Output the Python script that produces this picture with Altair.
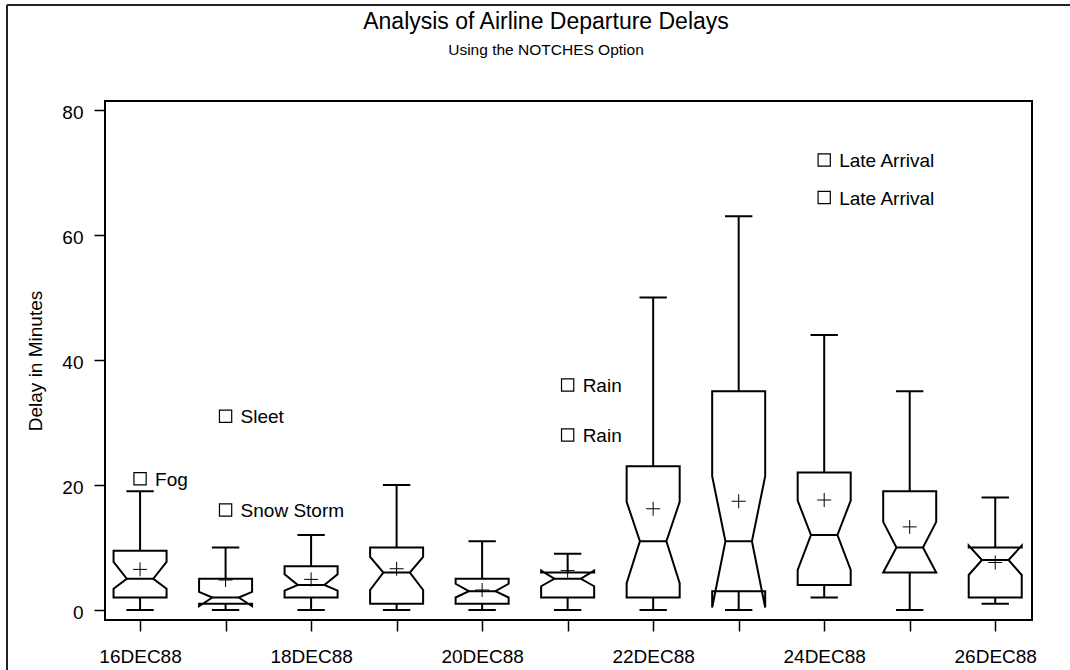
import json

import altair as alt
import pandas as pd

# ---- daily delay summaries (minutes) ----
days = ["16DEC88", "17DEC88", "18DEC88", "19DEC88", "20DEC88", "21DEC88",
        "22DEC88", "23DEC88", "24DEC88", "25DEC88", "26DEC88"]
whisker_low = [0, 0, 0, 0, 0, 0, 0, 0, 2, 0, 1]
q1 = [2, 1, 2, 1, 1, 2, 2, 3, 4, 6, 2]
median = [5, 2, 4, 6, 3, 5, 11, 11, 12, 10, 8]
q3 = [9.5, 5, 7, 10, 5, 6, 23, 35, 22, 19, 10]
whisker_high = [19, 10, 12, 20, 11, 9, 50, 63, 44, 35, 18]
mean = [6.5, 4.8, 4.9, 6.6, 3.2, 6.3, 16.2, 17.4, 17.6, 13.3, 7.6]
notch_low = [3.4, 0.6, 3.1, 3.2, 2.0, 3.8, 4.3, 0.4, 6.4, 6.0, 5.6]
notch_high = [7.7, 2.9, 5.7, 8.5, 4.2, 6.3, 17.3, 21.4, 17.5, 14.1, 10.3]

# ---- labelled outliers ----
outlier_day = ["16DEC88", "17DEC88", "17DEC88", "21DEC88", "21DEC88", "24DEC88", "24DEC88"]
outlier_delay = [21, 31, 16, 36, 28, 72, 66]
outlier_reason = ["Fog", "Sleet", "Snow Storm", "Rain", "Rain", "Late Arrival", "Late Arrival"]

# ---- titles ----
title_lines = ["Analysis of Airline Departure Delays", "Using the NOTCHES Option"]

# box geometry, in day units
BOX_HALF = 0.31
NOTCH_HALF = 0.155
CAP_HALF = 0.16

FONT = "Liberation Sans"
INK = "#000000"

pos = list(range(len(days)))

stats = pd.DataFrame({
    "pos": pos, "day": days, "lo": whisker_low, "q1": q1, "med": median,
    "q3": q3, "hi": whisker_high, "mean": mean,
})
stats["cap_l"] = stats["pos"] - CAP_HALF
stats["cap_r"] = stats["pos"] + CAP_HALF
stats["notch_l"] = stats["pos"] - NOTCH_HALF
stats["notch_r"] = stats["pos"] + NOTCH_HALF

# notched box outlines, traced as closed paths
rows = []
for i in pos:
    pts = [
        (-BOX_HALF, q3[i]), (BOX_HALF, q3[i]), (BOX_HALF, notch_high[i]),
        (NOTCH_HALF, median[i]), (BOX_HALF, notch_low[i]), (BOX_HALF, q1[i]),
        (-BOX_HALF, q1[i]), (-BOX_HALF, notch_low[i]), (-NOTCH_HALF, median[i]),
        (-BOX_HALF, notch_high[i]), (-BOX_HALF, q3[i]),
    ]
    for k, (dx, yv) in enumerate(pts):
        rows.append({"box": days[i], "vertex": k, "px": i + dx, "py": yv})
outline = pd.DataFrame(rows)

outliers = pd.DataFrame({
    "pos": [days.index(d) for d in outlier_day],
    "delay": outlier_delay,
    "reason": outlier_reason,
})

label_array = json.dumps(days).replace('"', "'")
x_scale = alt.Scale(domain=[-0.41, 10.43], nice=False, zero=False)
y_scale = alt.Scale(domain=[-1.6, 81.44], nice=False, zero=False)

x_axis = alt.Axis(
    values=pos,
    labelExpr=f"datum.value % 2 == 0 ? {label_array}[datum.value] : ''",
    title=None, grid=False, domain=False, tickSize=11, tickWidth=1.5,
    tickColor=INK, labelColor=INK, labelFontSize=19, labelFont=FONT,
    labelPadding=16, labelOverlap=False, labelFlush=False,
)
y_axis = alt.Axis(
    values=[0, 20, 40, 60, 80], title="Delay in Minutes", grid=False,
    domain=False, tickSize=11, tickWidth=1.5, tickColor=INK, labelColor=INK,
    labelFontSize=19, labelFont=FONT, labelPadding=11, labelOffset=2,
    titleFont=FONT, titleFontSize=19, titleFontWeight="normal",
    titleColor=INK, titlePadding=16,
)


def X(field):
    return alt.X(f"{field}:Q", scale=x_scale, axis=x_axis)


def Y(field):
    return alt.Y(f"{field}:Q", scale=y_scale, axis=y_axis)


boxes = alt.Chart(outline).mark_line(
    color=INK, strokeWidth=2, strokeJoin="miter", strokeCap="square"
).encode(x=X("px"), y=Y("py"), order="vertex:Q", detail="box:N")

base = alt.Chart(stats)

median_lines = base.mark_rule(color=INK, strokeWidth=2).encode(
    x=X("notch_l"), x2="notch_r:Q", y=Y("med"))

upper_whisker = base.mark_rule(color=INK, strokeWidth=2).encode(
    x=X("pos"), y=Y("q3"), y2="hi:Q")
lower_whisker = base.mark_rule(color=INK, strokeWidth=2).encode(
    x=X("pos"), y=Y("lo"), y2="q1:Q")
upper_cap = base.mark_rule(color=INK, strokeWidth=2).encode(
    x=X("cap_l"), x2="cap_r:Q", y=Y("hi"))
lower_cap = base.mark_rule(color=INK, strokeWidth=2).encode(
    x=X("cap_l"), x2="cap_r:Q", y=Y("lo"))

means = base.mark_point(
    shape="M-1,0H1M0,-1V1", size=196, filled=False, color=INK,
    strokeWidth=1, opacity=1,
).encode(x=X("pos"), y=Y("mean"))

outlier_points = alt.Chart(outliers).mark_point(
    shape="square", size=150, filled=False, color=INK, strokeWidth=1.2,
    opacity=1,
).encode(x=X("pos"), y=Y("delay"))

outlier_text = alt.Chart(outliers).mark_text(
    align="left", baseline="middle", dx=15, dy=1, font=FONT, fontSize=19,
    color=INK,
).encode(x=X("pos"), y=Y("delay"), text="reason:N")

# chart title and subtitle, centred on the page above the frame
titles = pd.DataFrame({"line": title_lines})
main_title = alt.Chart(titles).transform_filter(
    alt.datum.line == title_lines[0]
).mark_text(
    align="center", baseline="alphabetic", font=FONT, fontSize=23,
    color=INK,
).encode(text="line:N", x=alt.value(441), y=alt.value(-72))
sub_title = alt.Chart(titles).transform_filter(
    alt.datum.line == title_lines[1]
).mark_text(
    align="center", baseline="alphabetic", font=FONT, fontSize=15.5,
    color=INK,
).encode(text="line:N", x=alt.value(441), y=alt.value(-46))

# page border (top and left edges)
page = pd.DataFrame({"edge": ["page"]})
border_top = alt.Chart(page).mark_rule(color="#222222", strokeWidth=2).encode(
    x=alt.value(-98), x2=alt.value(965), y=alt.value(-96))
border_left = alt.Chart(page).mark_rule(color="#222222", strokeWidth=2).encode(
    x=alt.value(-98), y=alt.value(-96), y2=alt.value(569))

chart = alt.layer(
    boxes, median_lines, upper_whisker, lower_whisker, upper_cap, lower_cap,
    means, outlier_points, outlier_text, main_title, sub_title,
    border_top, border_left,
).properties(
    width=927,
    height=519,
    padding={"left": 105, "top": 101, "right": 38, "bottom": 50},
    autosize=alt.AutoSizeParams(type="none"),
).configure(font=FONT, background="white").configure_view(
    stroke=INK, strokeWidth=2
)

chart.save("out.html", embed_options={"renderer": "svg", "actions": False})
